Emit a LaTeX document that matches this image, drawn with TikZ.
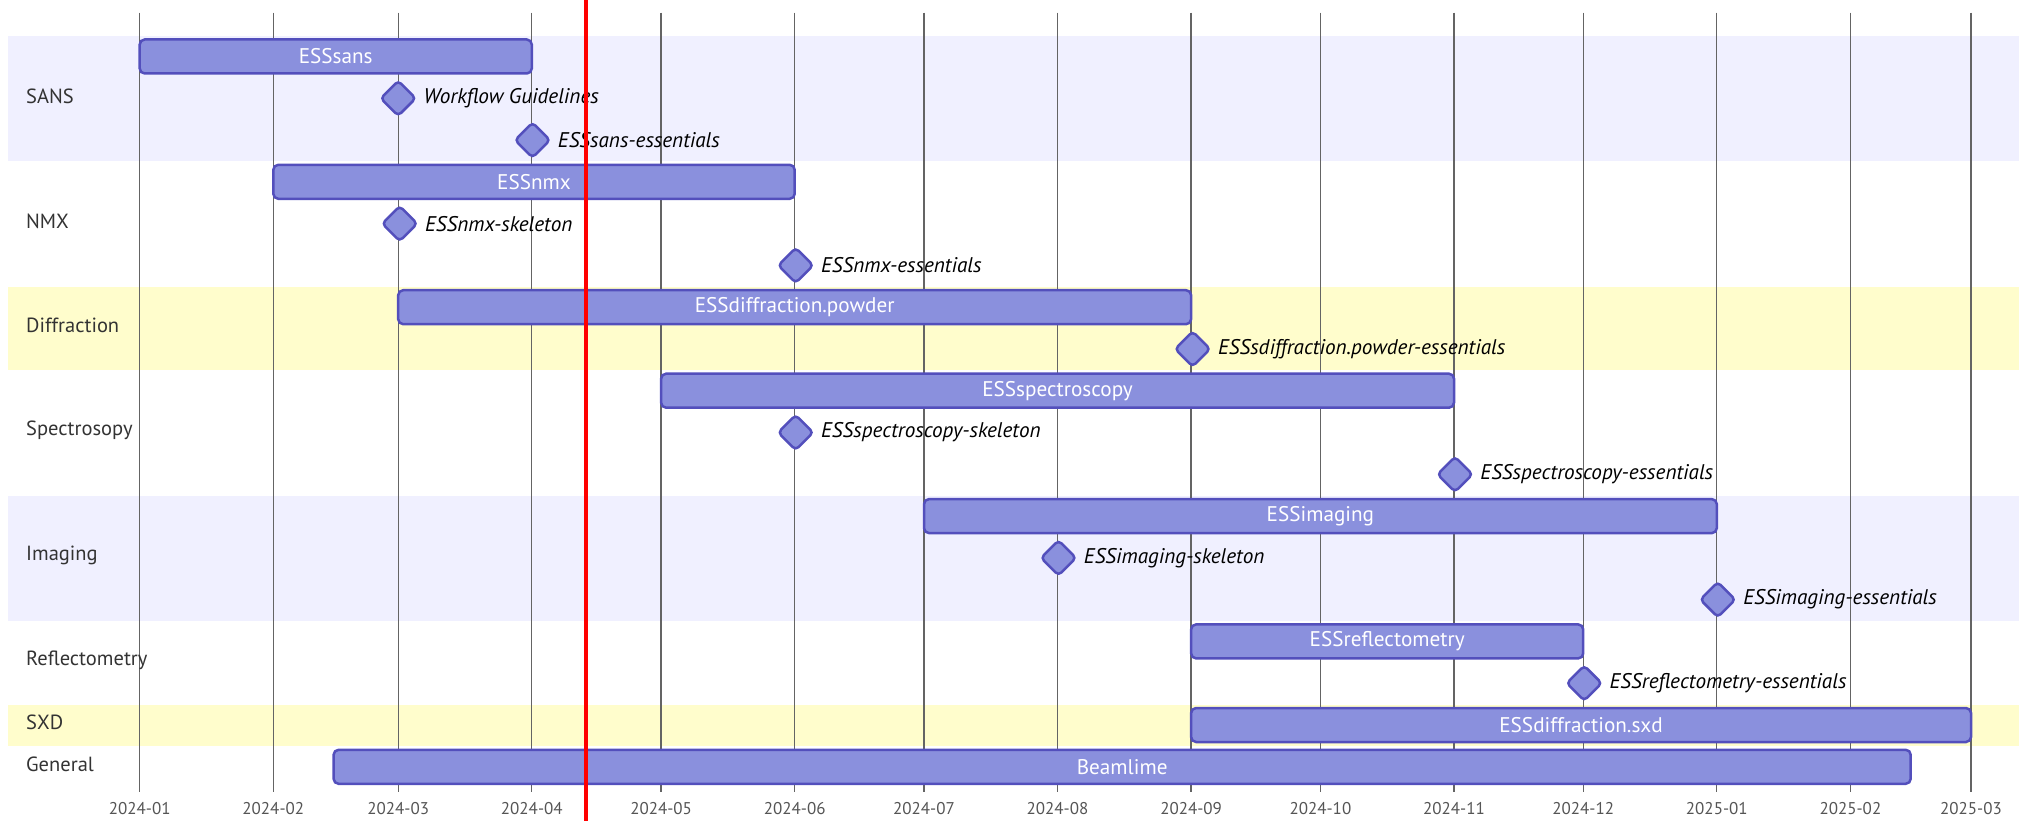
\documentclass[tikz,border=0pt]{standalone}
\usepackage{fontspec}
\setmainfont{PT Sans}
\usetikzlibrary{shapes.geometric}
\definecolor{bandA}{RGB}{240,240,255}
\definecolor{bandY}{RGB}{255,253,204}
\definecolor{taskfill}{HTML}{8A90DD}
\definecolor{taskline}{HTML}{534FBC}
\definecolor{gridc}{RGB}{100,100,100}
\definecolor{labc}{RGB}{51,51,51}
\definecolor{axc}{RGB}{85,85,85}
\tikzset{
 taskbar/.style={rectangle, rounded corners=5pt, fill=taskfill, draw=taskline, line width=2.5pt, minimum height=34pt, inner sep=0pt, text=white, font=\fontsize{21.2}{24}\selectfont},
 mile/.style={diamond, rounded corners=4pt, fill=taskfill, draw=taskline, line width=2.5pt, minimum width=36pt, minimum height=36pt, inner sep=0pt},
 milelabel/.style={anchor=west, inner sep=0pt, font=\fontsize{21.2}{24}\selectfont\itshape, text=black},
 seclabel/.style={anchor=west, inner sep=0pt, font=\fontsize{20.5}{24}\selectfont, text=labc},
 axislabel/.style={inner sep=0pt, font=\fontsize{17}{20}\selectfont, text=axc},
 gridline/.style={draw=gridc, line width=1.3pt},
 todayline/.style={draw=red, line width=4pt},
}
\begin{document}
\begin{tikzpicture}[x=1pt,y=-1pt]
\useasboundingbox (0,0) rectangle (2019,821);
% section bands
\fill[bandA] (8,36) rectangle (2019,161.3);
\fill[bandY] (8,286.7) rectangle (2019,370.2);
\fill[bandA] (8,495.6) rectangle (2019,620.9);
\fill[bandY] (8,704.5) rectangle (2019,746.3);
% grid lines and axis labels
\foreach \xx/\lab [count=\i] in {139.7/2024-01,273.3/2024-02,398.2/2024-03,531.8/2024-04,661.1/2024-05,794.7/2024-06,924.0/2024-07,1057.5/2024-08,1191.1/2024-09,1320.4/2024-10,1454.0/2024-11,1583.2/2024-12,1716.8/2025-01,1850.4/2025-02,1971.0/2025-03}{
  \coordinate (gt\i) at (\xx,12.7);
  \coordinate (gb\i) at (\xx,791.7);
  \draw[gridline] (gt\i) -- (gb\i);
  \node[axislabel] (ax\i) at (\xx,809) {\lab};
}
% section labels
\node[seclabel] (sSANS) at (26,96) {SANS};
\node[seclabel] (sNMX) at (26,221.3) {NMX};
\node[seclabel] (sDIF) at (26,325.8) {Diffraction};
\node[seclabel] (sSPE) at (26,430.2) {Spectrosopy};
\node[seclabel] (sIMG) at (26,555.6) {Imaging};
\node[seclabel] (sREF) at (26,660) {Reflectometry};
\node[seclabel] (sSXD) at (26,722.7) {SXD};
\node[seclabel] (sGEN) at (26,764.5) {General};
% task bars
\node[taskbar, minimum width=392.1] (tsans) at (335.75,56.5) {ESSsans};
\node[taskbar, minimum width=521.4] (tnmx) at (534,181.8) {ESSnmx};
\node[taskbar, minimum width=792.9] (tpow) at (794.65,307.2) {ESSdiffraction.powder};
\node[taskbar, minimum width=792.9] (tspe) at (1057.55,390.7) {ESSspectroscopy};
\node[taskbar, minimum width=792.8] (timg) at (1320.4,516.1) {ESSimaging};
\node[taskbar, minimum width=392.1] (tref) at (1387.15,641.4) {ESSreflectometry};
\node[taskbar, minimum width=779.9] (tsxd) at (1581.05,725.0) {ESSdiffraction.sxd};
\node[taskbar, minimum width=1577.1] (tbeam) at (1122.15,766.8) {Beamlime};
% milestones
\node[mile] (m1) at (398.2,98.3) {};
\node[mile] (m2) at (532.5,140.1) {};
\node[mile] (m3) at (399.7,223.6) {};
\node[mile] (m4) at (795.7,265.4) {};
\node[mile] (m5) at (1192.6,349.0) {};
\node[mile] (m6) at (795.7,432.5) {};
\node[mile] (m7) at (1455.0,474.3) {};
\node[mile] (m8) at (1058.5,557.9) {};
\node[mile] (m9) at (1717.8,599.6) {};
\node[mile] (m10) at (1584.2,683.2) {};
\node[milelabel] (l1) at ([xshift=6pt]m1.east) {Workflow Guidelines};
\node[milelabel] (l2) at ([xshift=6pt]m2.east) {ESSsans-essentials};
\node[milelabel] (l3) at ([xshift=6pt]m3.east) {ESSnmx-skeleton};
\node[milelabel] (l4) at ([xshift=6pt]m4.east) {ESSnmx-essentials};
\node[milelabel] (l5) at ([xshift=6pt]m5.east) {ESSsdiffraction.powder-essentials};
\node[milelabel] (l6) at ([xshift=6pt]m6.east) {ESSspectroscopy-skeleton};
\node[milelabel] (l7) at ([xshift=6pt]m7.east) {ESSspectroscopy-essentials};
\node[milelabel] (l8) at ([xshift=6pt]m8.east) {ESSimaging-skeleton};
\node[milelabel] (l9) at ([xshift=6pt]m9.east) {ESSimaging-essentials};
\node[milelabel] (l10) at ([xshift=6pt]m10.east) {ESSreflectometry-essentials};
% today marker
\coordinate (todayT) at (585.7,0);
\coordinate (todayB) at (585.7,821);
\draw[todayline] (todayT) -- (todayB);
\end{tikzpicture}
\end{document}
